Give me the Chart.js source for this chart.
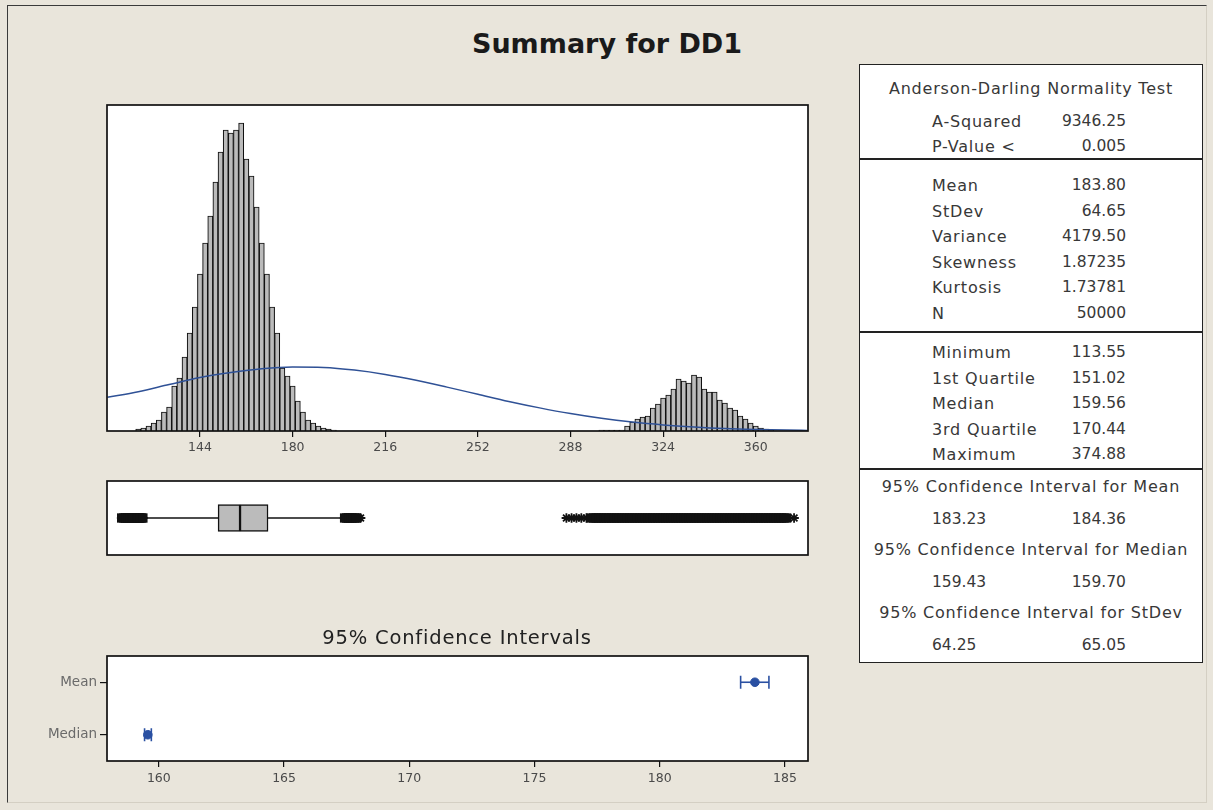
<!DOCTYPE html>
<html><head><meta charset="utf-8">
<script src="https://cdn.jsdelivr.net/npm/chart.js@4.4.1/dist/chart.umd.min.js"></script>
<style>
html,body{margin:0;padding:0;background:#E9E5DB;}
body{width:1213px;height:810px;position:relative;overflow:hidden;font-family:'DejaVu Sans',sans-serif;}
.frame{position:absolute;left:7px;top:5px;width:1200px;height:798px;border-top:1.5px solid #3a3a3a;border-left:1.5px solid #3a3a3a;border-right:1px solid #d4cfc3;border-bottom:1px solid #d4cfc3;box-sizing:border-box;}
canvas{position:absolute;}
.t{position:absolute;white-space:nowrap;line-height:1;}
.tbl{position:absolute;left:859px;top:64px;width:344px;height:599px;border:1.5px solid #222;box-sizing:border-box;background:#fff;}
.div{position:absolute;left:859px;width:344px;height:1.5px;background:#222;}
</style></head><body>
<div class="frame"></div>
<canvas id="hist" width="722" height="366" style="left:97px;top:95px"></canvas>
<canvas id="box" width="722" height="94" style="left:97px;top:471px"></canvas>
<canvas id="ci" width="820" height="170" style="left:0px;top:640px"></canvas>
<div class="tbl"></div>
<div class="div" style="top:158px"></div>
<div class="div" style="top:331px"></div>
<div class="div" style="top:468px"></div>
<script>
// ---------------- data ----------------
const chartTitle = 'Summary for DD1';
const histTicks = [144, 180, 216, 252, 288, 324, 360];
const histXMin = 107.85, histXMax = 380.3, histYMax = 3143;
const modeACentres = [120,122,124,126,128,130,132,134,136,138,140,142,144,146,148,150,152,154,156,158,160,162,164,166,168,170,172,174,176,178,180,182,184,186,188,190,192,194,196];
const modeACounts  = [19,29,48,77,106,183,231,434,511,713,945,1195,1513,1812,2073,2400,2690,2902,2873,2902,2969,2622,2458,2159,1812,1513,1195,945,607,530,434,289,183,106,77,48,29,19,10];
const modeBCentres = [300,302,304,306,308,310,312,314,316,318,320,322,324,326,328,330,332,334,336,338,340,342,344,346,348,350,352,354,356,358,360,362,364,366];
const modeBCounts  = [10,10,10,10,10,48,87,116,135,145,222,260,318,347,405,501,482,463,540,521,405,376,376,299,270,222,202,145,116,77,48,29,19,10];
const curveX = [108,120,132,144,156,168,180,192,204,216,228,240,252,264,276,288,300,312,324,336,348,360,372,380];
const curveY = [325,379,448,515,563,599,616,612,587,545,489,423,354,285,223,168,122,86,59,39,24,15,9,6];

const boxQuartiles = [151.02, 159.56, 170.44];
const boxWhiskers = [122.3, 199.0];
// outliers drawn as asterisks; the dense runs merge into a solid band
const lowOutliers = [113.55,114.4,115.2,116.0,116.8,117.5,118.2,118.9,119.5,120.1,120.7,121.3,121.8];
const nearHighOutliers = [200.2,201.0,201.9,202.8,203.7,204.6];
const nearHighSparse = [205.6,206.4];
const farHighSparse = [286.4,288.4,290.3,292.2,294.2];
const farHighDense = [296,297,298,299,300,301,302,303,304,305,306,307,308,309,310,311,312,313,314,315,316,317,318,319,320,321,322,323,324,325,326,327,328,329,330,331,332,333,334,335,336,337,338,339,340,341,342,343,344,345,346,347,348,349,350,351,352,353,354,355,356,357,358,359,360,361,362,363,364,365,366,367,368,369,370,371,372];
const maxOutlier = [374.88];

const ciTitle = '95% Confidence Intervals';
const ciLabels = ['Mean', 'Median'];
const ciEstimates = [183.80, 159.56];
const ciLower = [183.23, 159.43];
const ciUpper = [184.36, 159.70];
const ciTicks = [160, 165, 170, 175, 180, 185];
const ciXMin = 157.93, ciXMax = 185.92;

const adTitle = 'Anderson-Darling Normality Test';
const adRows = [['A-Squared','9346.25'],['P-Value <','0.005']];
const momentRows = [['Mean','183.80'],['StDev','64.65'],['Variance','4179.50'],['Skewness','1.87235'],['Kurtosis','1.73781'],['N','50000']];
const quantRows = [['Minimum','113.55'],['1st Quartile','151.02'],['Median','159.56'],['3rd Quartile','170.44'],['Maximum','374.88']];
const ciRows = [['95% Confidence Interval for Mean','183.23','184.36'],['95% Confidence Interval for Median','159.43','159.70'],['95% Confidence Interval for StDev','64.25','65.05']];

// ---------------- styling helpers ----------------
Chart.defaults.font.family = "'DejaVu Sans', sans-serif";
const INK = '#111';
const BLUE_LINE = '#2F5196';
const BLUE_CI = '#2A50A2';
const BAR_GREY = '#BBBBBB';

const panel = {
  id: 'panel',
  beforeDraw(chart) {
    const {ctx, chartArea: a} = chart;
    ctx.save(); ctx.fillStyle = '#fff';
    ctx.fillRect(a.left, a.top, a.right - a.left, a.bottom - a.top);
    ctx.restore();
  },
  afterDraw(chart) {
    const {ctx, chartArea: a} = chart;
    ctx.save(); ctx.strokeStyle = INK; ctx.lineWidth = 1.7;
    ctx.strokeRect(a.left, a.top, a.right - a.left, a.bottom - a.top);
    ctx.restore();
  }
};
const base = {responsive: false, animation: false, events: [],
  plugins: {legend: {display: false}, tooltip: {enabled: false}, title: {display: false}}};

// ---------------- histogram ----------------
const histData = modeACentres.map((c, i) => ({x: c, y: modeACounts[i]}))
  .concat(modeBCentres.map((c, i) => ({x: c, y: modeBCounts[i]})));
new Chart(document.getElementById('hist'), {
  type: 'bar',
  data: {datasets: [
    {type: 'line', data: curveX.map((x, i) => ({x, y: curveY[i]})), borderColor: BLUE_LINE,
     borderWidth: 1.5, pointRadius: 0, cubicInterpolationMode: 'monotone', fill: false, order: 0},
    {type: 'bar', data: histData, backgroundColor: BAR_GREY, borderColor: INK, borderWidth: 1.1,
     barPercentage: 1, categoryPercentage: 1, order: 1}
  ]},
  options: Object.assign({}, base, {
    layout: {padding: {left: 10, top: 10, right: 11, bottom: 0}},
    scales: {
      x: {type: 'linear', min: histXMin, max: histXMax, offset: false,
          afterBuildTicks: s => { s.ticks = histTicks.map(v => ({value: v})); },
          afterFit: s => { s.height = 30; },
          grid: {display: true, offset: false, drawOnChartArea: false, drawTicks: true, tickLength: 6, color: INK, lineWidth: 1.2},
          border: {display: false},
          ticks: {font: {size: 12.5}, color: '#4a4a4a', padding: 3, maxRotation: 0, autoSkip: false}},
      y: {type: 'linear', min: 0, max: histYMax, display: false}
    }
  }),
  plugins: [panel]
});

// ---------------- boxplot ----------------
const row = 0;
const denseOutliers = lowOutliers.concat(nearHighOutliers, farHighDense);
const starOutliers = lowOutliers.concat(nearHighOutliers, nearHighSparse, farHighSparse, maxOutlier);
new Chart(document.getElementById('box'), {
  type: 'scatter',
  data: {datasets: [
    {type: 'line', data: [{x: boxWhiskers[0], y: row}, {x: boxQuartiles[0], y: row}], borderColor: INK, borderWidth: 1.5, pointRadius: 0},
    {type: 'line', data: [{x: boxQuartiles[2], y: row}, {x: boxWhiskers[1], y: row}], borderColor: INK, borderWidth: 1.5, pointRadius: 0},
    {type: 'bar', indexAxis: 'y', data: [{x: [boxQuartiles[0], boxQuartiles[1]], y: row}, {x: [boxQuartiles[1], boxQuartiles[2]], y: row}],
     backgroundColor: BAR_GREY, borderColor: INK, borderWidth: 1.5, borderSkipped: false, barThickness: 27},
    {type: 'scatter', data: denseOutliers.map(v => ({x: v, y: row})),
     pointStyle: 'rect', pointRadius: 6.6, borderWidth: 0, backgroundColor: INK},
    {type: 'scatter', data: starOutliers.map(v => ({x: v, y: row})),
     pointStyle: 'star', pointRadius: 4.8, borderColor: INK, borderWidth: 1.8, backgroundColor: INK}
  ]},
  options: Object.assign({}, base, {
    layout: {padding: {left: 10, top: 10, right: 11, bottom: 10}},
    scales: {
      x: {type: 'linear', min: histXMin, max: histXMax, display: false},
      y: {type: 'linear', min: -1, max: 1, display: false}
    }
  }),
  plugins: [panel]
});

// ---------------- confidence intervals ----------------
const ciSets = [];
ciLabels.forEach((lab, i) => {
  ciSets.push({type: 'line', data: [{x: ciLower[i], y: lab}, {x: ciUpper[i], y: lab}], borderColor: BLUE_CI,
    borderWidth: 1.6, pointStyle: 'line', pointRotation: 90, pointRadius: 6.5, pointBorderWidth: 1.6, pointBorderColor: BLUE_CI});
});
ciSets.push({type: 'scatter', data: ciLabels.map((lab, i) => ({x: ciEstimates[i], y: lab})),
  pointStyle: 'circle', pointRadius: 4.3, backgroundColor: BLUE_CI, borderColor: BLUE_CI});
new Chart(document.getElementById('ci'), {
  type: 'scatter',
  data: {labels: ciLabels, datasets: ciSets},
  options: Object.assign({}, base, {
    layout: {padding: {left: 0, top: 16, right: 12, bottom: 19}},
    scales: {
      x: {type: 'linear', min: ciXMin, max: ciXMax,
          afterBuildTicks: s => { s.ticks = ciTicks.map(v => ({value: v})); },
          afterFit: s => { s.height = 30; },
          grid: {display: true, offset: false, drawOnChartArea: false, drawTicks: true, tickLength: 6, color: INK, lineWidth: 1.2},
          border: {display: false},
          ticks: {font: {size: 12.5}, color: '#4a4a4a', padding: 4, maxRotation: 0, autoSkip: false}},
      y: {type: 'category', labels: ciLabels, offset: true,
          afterFit: s => { s.width = 107; },
          grid: {display: true, drawOnChartArea: false, drawTicks: true, tickLength: 7, color: INK, lineWidth: 1.2, offset: false},
          border: {display: false},
          ticks: {font: {size: 13.5}, color: '#6a6a6a', padding: 3}}
    }
  }),
  plugins: [panel]
});

// ---------------- text ----------------
function txt(s, x, y, align, size, weight, color, spacing) {
  const d = document.createElement('div');
  d.className = 't';
  d.textContent = s;
  d.style.fontSize = size + 'px';
  d.style.fontWeight = weight || 'normal';
  d.style.color = color || '#333';
  d.style.letterSpacing = (spacing || 0) + 'px';
  d.style.left = x + 'px';
  d.style.top = y + 'px';
  const tx = align === 'center' ? '-50%' : align === 'right' ? '-100%' : '0';
  d.style.transform = 'translate(' + tx + ',-50%)';
  document.body.appendChild(d);
}
txt(chartTitle, 607, 43, 'center', 27, 'bold', '#1a1a1a');
txt(ciTitle, 457, 638, 'center', 19.5, 'normal', '#222', 0.8);

const TL = 932, TR = 1126, TC = 1031, FS = 16, FN = 15.5, SP = 0.8, TCOL = '#383838';
function statRow(r, y) { txt(r[0], TL, y, 'left', FS, 'normal', TCOL, SP); txt(r[1], TR, y, 'right', FN, 'normal', TCOL); }
txt(adTitle, TC, 89, 'center', FS, 'normal', TCOL, SP);
adRows.forEach((r, i) => statRow(r, 122 + i * 25));
momentRows.forEach((r, i) => statRow(r, 186 + i * 25.6));
quantRows.forEach((r, i) => statRow(r, 353 + i * 25.5));
ciRows.forEach((r, i) => {
  const y = 487 + i * 63;
  txt(r[0], TC, y, 'center', FS, 'normal', TCOL, SP);
  txt(r[1], TL, y + 33, 'left', FN, 'normal', TCOL);
  txt(r[2], TR, y + 33, 'right', FN, 'normal', TCOL);
});
</script>
</body></html>
